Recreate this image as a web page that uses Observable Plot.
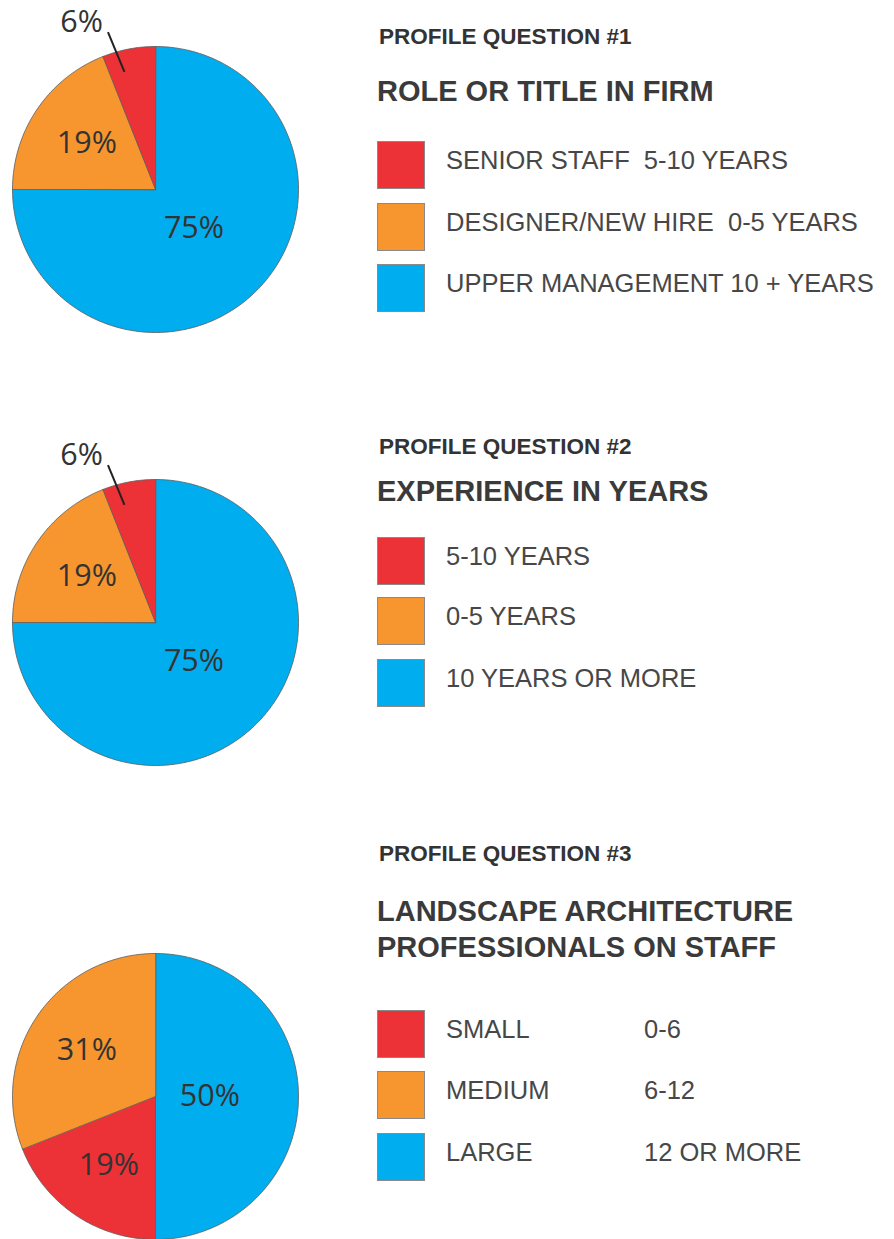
<!DOCTYPE html>
<html><head><meta charset="utf-8">
<script src="https://cdn.jsdelivr.net/npm/d3@7"></script>
<script src="https://cdn.jsdelivr.net/npm/@observablehq/plot@0.6"></script>
<style>
body{margin:0;background:#fff;}
#page{position:relative;width:894px;height:1239px;overflow:hidden;font-family:"Liberation Sans",Arial,sans-serif;background:#fff;}
.abs{position:absolute;white-space:pre;line-height:1;}
.pq{font-weight:bold;font-size:22.5px;color:#333;}
.title{font-weight:bold;font-size:29px;color:#3a3a3a;}
.leg{font-size:25.5px;color:#474747;}
.sw{position:absolute;width:48px;height:48px;border:1px solid #8a8a8a;box-sizing:border-box;}
.plot{position:absolute;left:0;}
</style></head><body><div id="page"></div>
<script>
// colour keys shared by all three charts
const colorKeys = ["small", "medium", "large"];
const colorRange = ["#ec3237", "#f7962f", "#00aeef"];

// Profile question 1
const q1Heading = "PROFILE QUESTION #1";
const q1Title = ["ROLE OR TITLE IN FIRM"];
const q1Categories = ["SENIOR STAFF  5-10 YEARS", "DESIGNER/NEW HIRE  0-5 YEARS", "UPPER MANAGEMENT 10 + YEARS"];
const q1Ranges = ["", "", ""];
const q1Values = [6, 19, 75];
const q1SliceOrder = ["large", "medium", "small"];

// Profile question 2
const q2Heading = "PROFILE QUESTION #2";
const q2Title = ["EXPERIENCE IN YEARS"];
const q2Categories = ["5-10 YEARS", "0-5 YEARS", "10 YEARS OR MORE"];
const q2Ranges = ["", "", ""];
const q2Values = [6, 19, 75];
const q2SliceOrder = ["large", "medium", "small"];

// Profile question 3
const q3Heading = "PROFILE QUESTION #3";
const q3Title = ["LANDSCAPE ARCHITECTURE", "PROFESSIONALS ON STAFF"];
const q3Categories = ["SMALL", "MEDIUM", "LARGE"];
const q3Ranges = ["0-6", "6-12", "12 OR MORE"];
const q3Values = [19, 31, 50];
const q3SliceOrder = ["large", "small", "medium"];

const questions = [
  {heading: q1Heading, title: q1Title, categories: q1Categories, ranges: q1Ranges, values: q1Values, order: q1SliceOrder},
  {heading: q2Heading, title: q2Title, categories: q2Categories, ranges: q2Ranges, values: q2Values, order: q2SliceOrder},
  {heading: q3Heading, title: q3Title, categories: q3Categories, ranges: q3Ranges, values: q3Values, order: q3SliceOrder}
];

// page layout (pixels)
const layout = [
  {plotTop: 0,   pq: 45,  titles: [102],      swatches: [141, 202.5, 264]},
  {plotTop: 433, pq: 455, titles: [501.7],    swatches: [536.7, 597, 659]},
  {plotTop: 907, pq: 862, titles: [922, 958], swatches: [1010, 1070.5, 1133]}
];

const page = document.getElementById("page");
const deg = Math.PI / 180;

function addText(text, cls, left, baseline, fs) {
  const d = document.createElement("div");
  d.className = "abs " + cls;
  d.textContent = text;
  d.style.left = left + "px";
  d.style.top = (baseline - 0.8465 * fs) + "px";
  page.appendChild(d);
}

function pieChart(q) {
  const items = q.order.map(k => ({key: k, value: q.values[colorKeys.indexOf(k)]}));
  const total = d3.sum(items, d => d.value);
  const arcs = d3.pie().sort(null).value(d => d.value)(items);
  const poly = [];
  arcs.forEach(a => {
    poly.push({key: a.data.key, x: 0, y: 0});
    const n = Math.max(2, Math.ceil((a.endAngle - a.startAngle) / deg));
    for (let i = 0; i <= n; i++) {
      const t = a.startAngle + (a.endAngle - a.startAngle) * i / n;
      poly.push({key: a.data.key, x: Math.sin(t), y: Math.cos(t)});
    }
  });
  const inside = [], outside = [], leaders = [];
  arcs.forEach(a => {
    const mid = (a.startAngle + a.endAngle) / 2;
    const share = a.value / total;
    const label = a.value + "%";
    if (share < 0.1) {
      const t1 = mid - 4 * deg, t2 = mid - 6 * deg;
      const p1 = {x: 0.85 * Math.sin(t1), y: 0.85 * Math.cos(t1)};
      const p2 = {x: 1.15 * Math.sin(t2), y: 1.15 * Math.cos(t2)};
      leaders.push({x1: p1.x, y1: p1.y, x2: p2.x, y2: p2.y});
      outside.push({x: p2.x, y: p2.y, label});
    } else {
      const r = share >= 0.5 ? 0.38 : 0.58;
      inside.push({x: r * Math.sin(mid), y: r * Math.cos(mid), label});
    }
  });
  return Plot.plot({
    width: 310, height: 340,
    marginLeft: 12, marginRight: 12, marginTop: 46, marginBottom: 8,
    x: {domain: [-1, 1], axis: null},
    y: {domain: [-1, 1], axis: null},
    color: {domain: colorKeys, range: colorRange},
    style: {overflow: "visible", background: "transparent"},
    marks: [
      Plot.line(poly, {x: "x", y: "y", z: "key", fill: "key", stroke: "#5c5c5c", strokeWidth: 0.8, curve: "linear-closed"}),
      Plot.link(leaders, {x1: "x1", y1: "y1", x2: "x2", y2: "y2", stroke: "#222", strokeWidth: 2}),
      Plot.text(inside, {x: "x", y: "y", text: "label", fontSize: 30.5, fontFamily: "Open Sans", fill: "#333"}),
      Plot.text(outside, {x: "x", y: "y", text: "label", fontSize: 30.5, fontFamily: "Open Sans", fill: "#333",
        textAnchor: "end", lineAnchor: "bottom", dx: -5})
    ]
  });
}

questions.forEach((q, i) => {
  const L = layout[i];
  const svg = pieChart(q);
  const wrap = document.createElement("div");
  wrap.className = "plot";
  wrap.style.top = L.plotTop + "px";
  wrap.appendChild(svg);
  page.appendChild(wrap);

  addText(q.heading, "pq", 379, L.pq, 22.5);
  q.title.forEach((t, j) => addText(t, "title", 377, L.titles[j], 29));
  q.categories.forEach((c, j) => {
    const sw = document.createElement("div");
    sw.className = "sw";
    sw.style.left = "377px";
    sw.style.top = L.swatches[j] + "px";
    sw.style.background = colorRange[j];
    page.appendChild(sw);
    addText(c, "leg", 446, L.swatches[j] + 28.8, 25.5);
    if (q.ranges[j]) addText(q.ranges[j], "leg", 644, L.swatches[j] + 28.8, 25.5);
  });
});
</script>
</body></html>
